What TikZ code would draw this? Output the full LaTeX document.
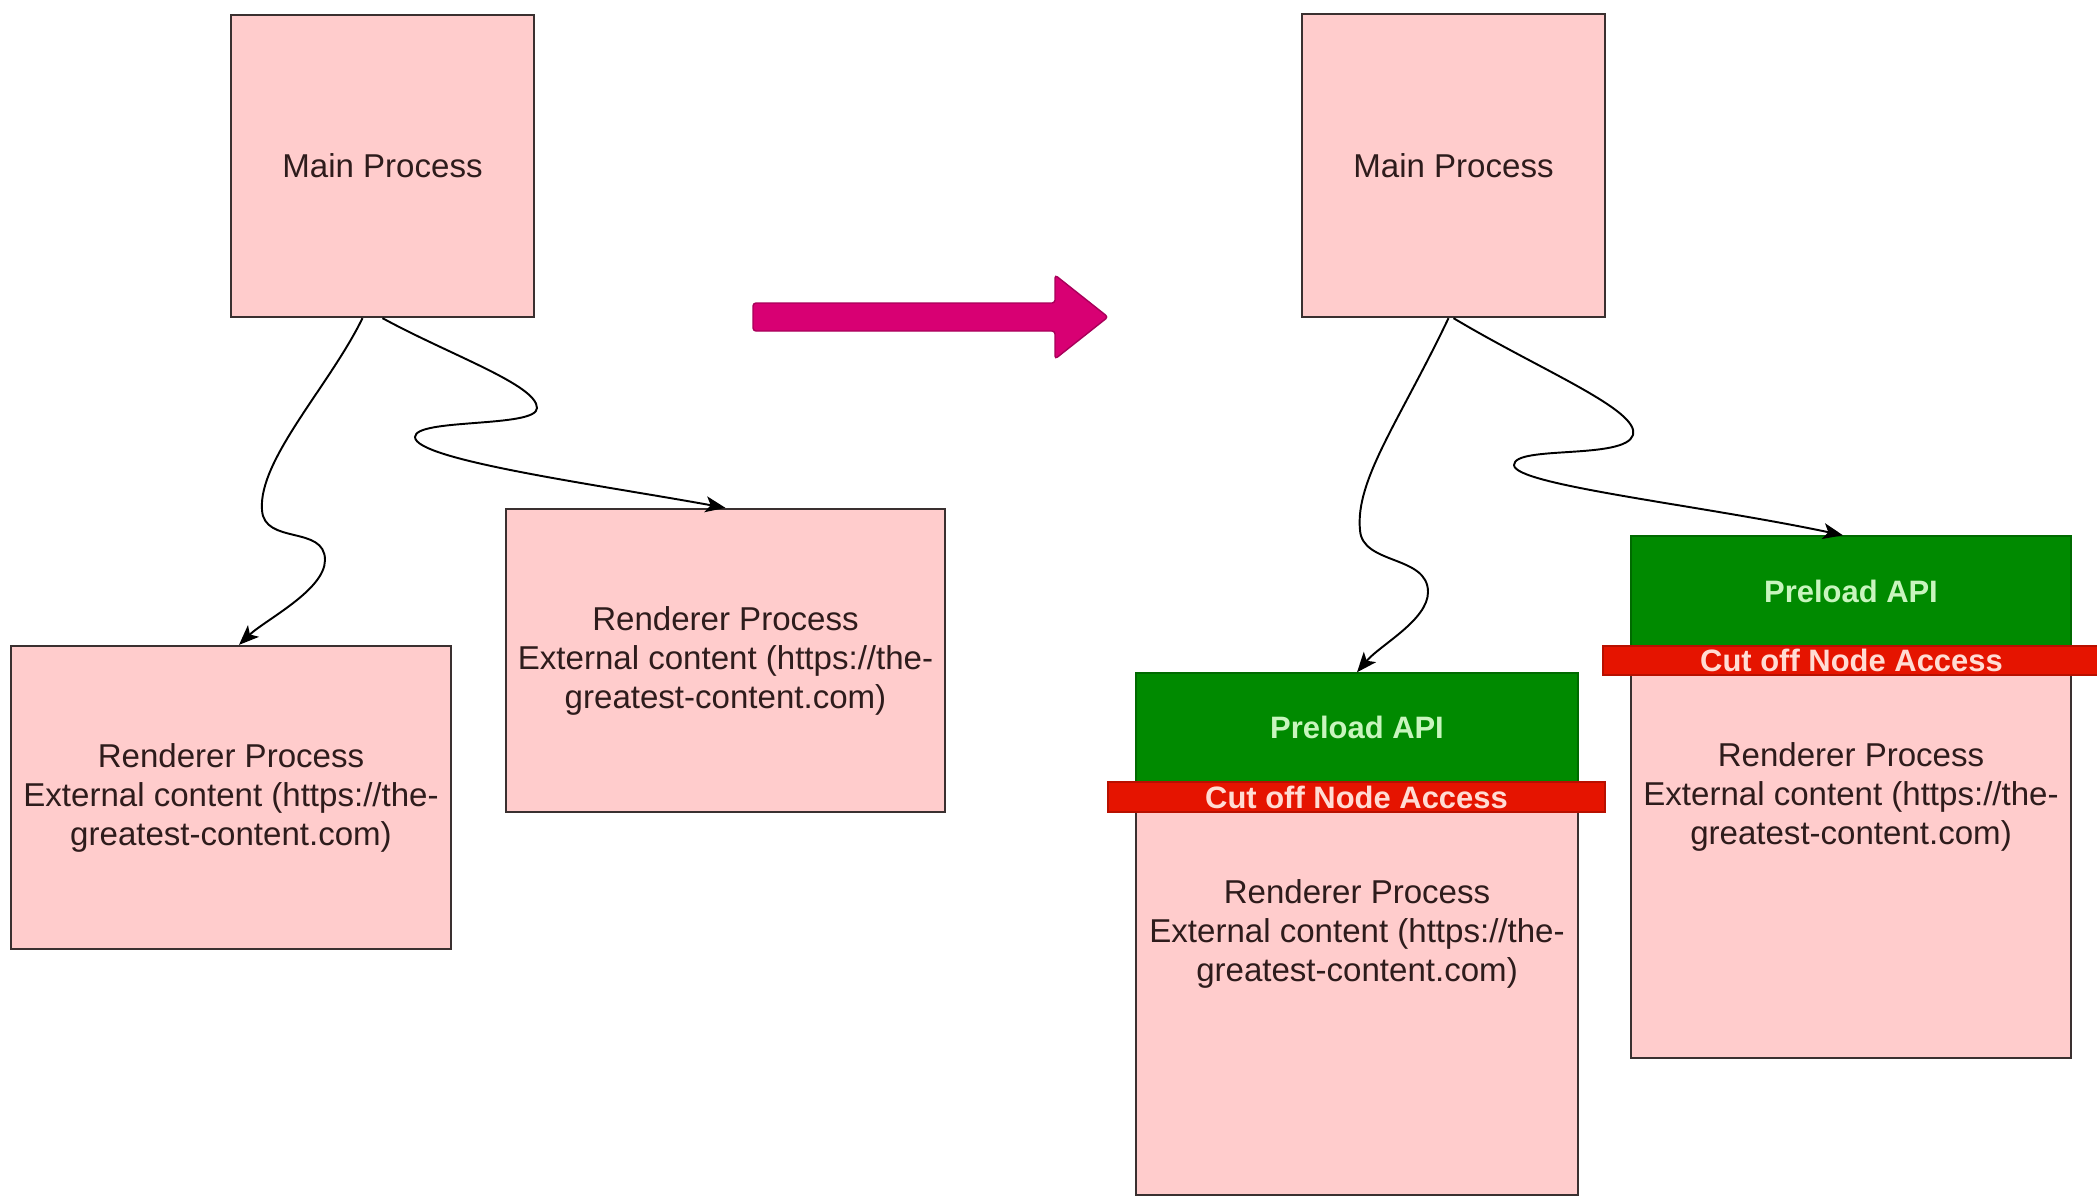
\documentclass[tikz,border=0pt]{standalone}
\usepackage{fontspec}
\setmainfont{Liberation Sans}
\usetikzlibrary{arrows.meta}

\definecolor{procfill}{HTML}{FFCCCC}
\definecolor{procline}{HTML}{3A3030}
\definecolor{proctext}{HTML}{2E1C1C}
\definecolor{apifill}{HTML}{008A00}
\definecolor{apiline}{HTML}{006A00}
\definecolor{apitext}{HTML}{C8F5BE}
\definecolor{cutfill}{HTML}{E51400}
\definecolor{cutline}{HTML}{B81000}
\definecolor{cuttext}{HTML}{FFDCD4}
\definecolor{bigarrow}{HTML}{D80073}
\definecolor{bigarrowline}{HTML}{A8005A}

\tikzset{
  procbox/.style={draw=procline, fill=procfill, line width=0.6pt, inner sep=0pt,
    align=center, text=proctext, font=\fontsize{9.4pt}{11.1pt}\selectfont},
  apibox/.style={draw=apiline, fill=apifill, line width=0.4pt, inner sep=0pt,
    align=center, text=apitext, font=\fontsize{8.8pt}{10.5pt}\selectfont\bfseries},
  cutbar/.style={draw=cutline, fill=cutfill, line width=0.4pt, inner sep=0pt,
    align=center, text=cuttext, font=\fontsize{8.8pt}{10.5pt}\selectfont\bfseries},
  conn/.style={draw=black, line width=0.55pt,
    -{Stealth[length=0.2cm, width=0.16cm, inset=0.05cm]}}
}

\newcommand{\rendtext}{Renderer Process\\External content (https://the-\\greatest-content.com)}

\begin{document}
\begin{tikzpicture}[x=0.01cm, y=-0.01cm]
  \useasboundingbox (0,0) rectangle (2097,1196);
  \fill[white] (0,0) rectangle (2097,1196);

  % ---------- before: main process with two renderers ----------
  \node[procbox, minimum width=3.03cm, minimum height=3.02cm] (mainL) at (382.5,166) {Main Process};
  \node[procbox, minimum width=4.40cm, minimum height=3.03cm] (rendA) at (231,797.5) {\rendtext};
  \node[procbox, minimum width=4.39cm, minimum height=3.03cm] (rendB) at (725.5,660.5) {\rendtext};

  % ---------- transition arrow ----------
  \draw[fill=bigarrow, draw=bigarrowline, line width=0.4pt, rounded corners=0.03cm]
    (753,303) -- (1055,303) -- (1055,275) -- (1108,317) -- (1055,359) -- (1055,331) -- (753,331) -- cycle;

  % ---------- after: renderers behind a preload layer ----------
  \node[procbox, minimum width=3.03cm, minimum height=3.03cm] (mainR) at (1453.5,165.5) {Main Process};

  \node[procbox, minimum width=4.42cm, minimum height=5.22cm] (rendC) at (1357,934) {\rendtext};
  \node[apibox, minimum width=4.42cm, minimum height=1.09cm] (preC) at (1357,727.5) {Preload API};
  \node[cutbar, minimum width=4.97cm, minimum height=0.30cm] (cutC) at (1356.5,797) {Cut off Node Access};

  \node[procbox, minimum width=4.40cm, minimum height=5.22cm] (rendD) at (1851,797) {\rendtext};
  \node[apibox, minimum width=4.40cm, minimum height=1.10cm] (preD) at (1851,591) {Preload API};
  \node[cutbar, minimum width=4.97cm, minimum height=0.29cm] (cutD) at (1851.5,660.5) {Cut off Node Access};

  % ---------- wavy connectors ----------
  \draw[conn] ([xshift=-0.2cm]mainL.south)
      .. controls (330,385) and (258,460) .. (262,510)
      .. controls (264,545) and (325,525) .. (325,560)
      .. controls (325,590) and (265,620) .. ([xshift=0.08cm]rendA.north);

  \draw[conn] (mainL.south)
      .. controls (450,355) and (537,385) .. (537,408)
      .. controls (537,428) and (415,418) .. (415,437)
      .. controls (415,460) and (600,485) .. (rendB.north);

  \draw[conn] ([xshift=-0.05cm]mainR.south)
      .. controls (1400,420) and (1355,480) .. (1360,530)
      .. controls (1362,565) and (1428,555) .. (1428,592)
      .. controls (1428,620) and (1380,645) .. (preC.north);

  \draw[conn] (mainR.south)
      .. controls (1540,370) and (1640,410) .. (1633,435)
      .. controls (1625,460) and (1514,445) .. (1514,465)
      .. controls (1514,485) and (1700,505) .. ([xshift=-0.08cm]preD.north);
\end{tikzpicture}
\end{document}
